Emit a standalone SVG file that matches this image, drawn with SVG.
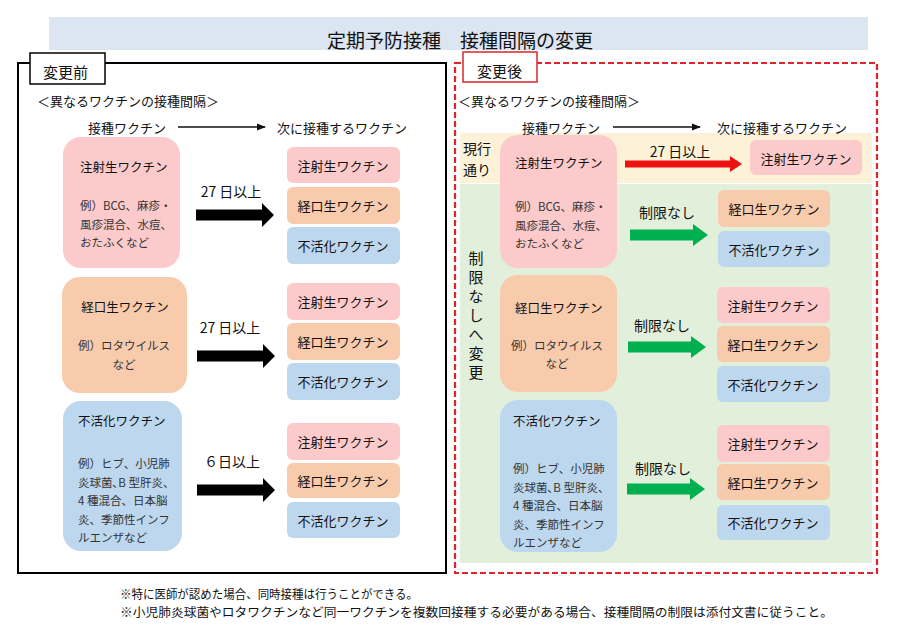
<svg xmlns="http://www.w3.org/2000/svg" width="900" height="637" viewBox="0 0 900 637">
<style>
text{font-family:"Noto Sans CJK JP","Noto Sans",sans-serif;fill:#111;dominant-baseline:central}
.t{font-size:19px}
.lb{font-size:15px}
.lv{font-size:14px}
.h{font-size:13px}
.nm{font-size:12.5px}
.ex{font-size:11.5px;fill:#333}
.sm{font-size:13px}
.iv{font-size:14px}
.fn{font-size:12px}
.mid{text-anchor:middle}
.pk{fill:#fccaca}
.or{fill:#f8cbad}
.bl{fill:#bdd7ee}
</style>
<defs>
<marker id="ah" viewBox="0 0 10 10" refX="9" refY="5" markerWidth="7" markerHeight="7" orient="auto"><path d="M0,1 L10,5 L0,9 Z" fill="#111"/></marker>
<path id="ablk" d="M0,-5.5 H66 V-12 L78,0 L66,12 V5.5 H0 Z"/>
<path id="agrn" d="M0,-5.5 H63 V-11 L78,0 L63,11 V5.5 H0 Z"/>
<path id="ared" d="M0,-3.5 H105 V-8 L117,0 L105,8 V3.5 H0 Z"/>
</defs>

<g id="title">
<rect x="49" y="17" width="819" height="33" fill="#dce6f2"/>
<text class="t mid" x="460" y="39">定期予防接種　接種間隔の変更</text>
</g>

<g id="before-frame">
<rect x="18" y="63" width="428" height="510" fill="#fff" stroke="#000" stroke-width="2"/>
<rect x="30" y="53" width="75" height="31" fill="#fff" stroke="#000" stroke-width="1.5"/>
<text class="lb" x="43" y="71">変更前</text>
<text class="h" x="37" y="100">＜異なるワクチンの接種間隔＞</text>
<text class="h" x="88" y="127">接種ワクチン</text>
<text class="h" x="277" y="127">次に接種するワクチン</text>
</g>

<g id="after-frame">
<rect x="455" y="63" width="422" height="510" fill="#fff" stroke="#e0242b" stroke-width="2.2" stroke-dasharray="6,3"/>
<rect x="460" y="133" width="412" height="50" fill="#fdf1d8"/>
<rect x="460" y="184" width="412" height="379" fill="#e2efda"/>
<rect x="463" y="52" width="74" height="30" fill="#fff" stroke="#d9262c" stroke-width="1.5"/>
<text class="lb" x="477" y="70">変更後</text>
<text class="h" x="458" y="100">＜異なるワクチンの接種間隔＞</text>
<text class="h" x="522" y="127">接種ワクチン</text>
<text class="h" x="717" y="127">次に接種するワクチン</text>
<text class="lv" x="463" y="147.5">現行</text>
<text class="lv" x="463" y="168.5">通り</text>
<g class="lb mid">
<text x="476" y="257">制</text>
<text x="476" y="276">限</text>
<text x="476" y="295">な</text>
<text x="476" y="314">し</text>
<text x="476" y="333">へ</text>
<text x="476" y="352">変</text>
<text x="476" y="371">更</text>
</g>
</g>

<g id="connectors">
<line x1="178" y1="127" x2="265" y2="127" stroke="#111" stroke-width="1.3" marker-end="url(#ah)"/>
<line x1="613" y1="127" x2="700" y2="127" stroke="#111" stroke-width="1.3" marker-end="url(#ah)"/>
<use href="#ablk" x="196" y="215" fill="#000"/>
<use href="#ablk" x="197" y="356" fill="#000"/>
<use href="#ablk" x="197" y="490" fill="#000"/>
<use href="#ared" x="625" y="164" fill="#ee1111"/>
<use href="#agrn" x="630" y="235" fill="#00b050"/>
<use href="#agrn" x="628" y="347" fill="#00b050"/>
<use href="#agrn" x="627" y="489" fill="#00b050"/>
<text class="iv mid" x="231" y="191">27 日以上</text>
<text class="iv mid" x="230" y="327">27 日以上</text>
<text class="iv mid" x="232" y="461">６日以上</text>
<text class="iv mid" x="680" y="151">27 日以上</text>
<text class="iv mid" x="667" y="212">制限なし</text>
<text class="iv mid" x="662" y="325">制限なし</text>
<text class="iv mid" x="663" y="468">制限なし</text>
</g>

<g id="b-inj">
<rect class="pk" x="63" y="137" width="117" height="131" rx="18"/>
<text class="nm" x="80" y="166">注射生ワクチン</text>
<text class="ex" x="80" y="205">例）BCG、麻疹・</text>
<text class="ex" x="80" y="223.5">風疹混合、水痘、</text>
<text class="ex" x="80" y="242">おたふくなど</text>
</g>
<g id="b-oral">
<rect class="or" x="62" y="277" width="125" height="116" rx="18"/>
<text class="nm mid" x="125" y="306">経口生ワクチン</text>
<text class="ex mid" x="124" y="345">例）ロタウイルス</text>
<text class="ex mid" x="124" y="364">など</text>
</g>
<g id="b-inact">
<rect class="bl" x="63" y="401" width="119" height="150" rx="18"/>
<text class="nm" x="78" y="420">不活化ワクチン</text>
<text class="ex" x="78" y="463">例）ヒブ、小児肺</text>
<text class="ex" x="78" y="481.5">炎球菌､B 型肝炎、</text>
<text class="ex" x="78" y="500">4 種混合、日本脳</text>
<text class="ex" x="78" y="518.5">炎、季節性インフ</text>
<text class="ex" x="78" y="537">ルエンザなど</text>
</g>

<g id="b-t1-inj"><rect class="pk" x="287" y="147" width="113" height="36" rx="6"/><text class="sm mid" x="343" y="165">注射生ワクチン</text></g>
<g id="b-t1-oral"><rect class="or" x="287" y="187" width="113" height="37" rx="6"/><text class="sm mid" x="343" y="205">経口生ワクチン</text></g>
<g id="b-t1-inact"><rect class="bl" x="287" y="227" width="113" height="37" rx="6"/><text class="sm mid" x="343" y="245">不活化ワクチン</text></g>
<g id="b-t2-inj"><rect class="pk" x="287" y="283" width="113" height="37" rx="6"/><text class="sm mid" x="343" y="301">注射生ワクチン</text></g>
<g id="b-t2-oral"><rect class="or" x="287" y="323" width="113" height="37" rx="6"/><text class="sm mid" x="343" y="341">経口生ワクチン</text></g>
<g id="b-t2-inact"><rect class="bl" x="287" y="363" width="113" height="37" rx="6"/><text class="sm mid" x="343" y="381">不活化ワクチン</text></g>
<g id="b-t3-inj"><rect class="pk" x="287" y="423" width="113" height="37" rx="6"/><text class="sm mid" x="343" y="441">注射生ワクチン</text></g>
<g id="b-t3-oral"><rect class="or" x="287" y="463" width="113" height="35" rx="6"/><text class="sm mid" x="343" y="480">経口生ワクチン</text></g>
<g id="b-t3-inact"><rect class="bl" x="287" y="502" width="113" height="36" rx="6"/><text class="sm mid" x="343" y="520">不活化ワクチン</text></g>

<g id="a-inj">
<rect class="pk" x="500" y="135" width="117" height="133" rx="18"/>
<text class="nm" x="515" y="162">注射生ワクチン</text>
<text class="ex" x="515" y="206">例）BCG、麻疹・</text>
<text class="ex" x="515" y="224.5">風疹混合、水痘、</text>
<text class="ex" x="515" y="243">おたふくなど</text>
</g>
<g id="a-oral">
<rect class="or" x="500" y="275" width="117" height="117" rx="18"/>
<text class="nm" x="515" y="307">経口生ワクチン</text>
<text class="ex mid" x="557" y="345">例）ロタウイルス</text>
<text class="ex mid" x="557" y="363">など</text>
</g>
<g id="a-inact">
<rect class="bl" x="500" y="400" width="117" height="152" rx="18"/>
<text class="nm" x="513" y="420">不活化ワクチン</text>
<text class="ex" x="513" y="468">例）ヒブ、小児肺</text>
<text class="ex" x="513" y="486.5">炎球菌､B 型肝炎、</text>
<text class="ex" x="513" y="505">4 種混合、日本脳</text>
<text class="ex" x="513" y="523.5">炎、季節性インフ</text>
<text class="ex" x="513" y="542">ルエンザなど</text>
</g>

<g id="a-t0-inj"><rect class="pk" x="750" y="140" width="112" height="35" rx="6"/><text class="sm mid" x="806" y="158">注射生ワクチン</text></g>
<g id="a-t1-oral"><rect class="or" x="718" y="190" width="112" height="37" rx="6"/><text class="sm mid" x="774" y="208">経口生ワクチン</text></g>
<g id="a-t1-inact"><rect class="bl" x="718" y="231" width="112" height="36" rx="6"/><text class="sm mid" x="774" y="249">不活化ワクチン</text></g>
<g id="a-t2-inj"><rect class="pk" x="717" y="287" width="113" height="36" rx="6"/><text class="sm mid" x="773" y="305">注射生ワクチン</text></g>
<g id="a-t2-oral"><rect class="or" x="717" y="326" width="113" height="36" rx="6"/><text class="sm mid" x="773" y="344">経口生ワクチン</text></g>
<g id="a-t2-inact"><rect class="bl" x="717" y="366" width="113" height="36" rx="6"/><text class="sm mid" x="773" y="384">不活化ワクチン</text></g>
<g id="a-t3-inj"><rect class="pk" x="717" y="425" width="113" height="37" rx="6"/><text class="sm mid" x="773" y="443">注射生ワクチン</text></g>
<g id="a-t3-oral"><rect class="or" x="717" y="464" width="113" height="36" rx="6"/><text class="sm mid" x="773" y="482">経口生ワクチン</text></g>
<g id="a-t3-inact"><rect class="bl" x="717" y="505" width="113" height="35" rx="6"/><text class="sm mid" x="773" y="522">不活化ワクチン</text></g>

<g id="notes">
<text class="fn" x="120" y="593" textLength="298" lengthAdjust="spacingAndGlyphs">※特に医師が認めた場合、同時接種は行うことができる。</text>
<text class="fn" x="120" y="611" textLength="713" lengthAdjust="spacingAndGlyphs">※小児肺炎球菌やロタワクチンなど同一ワクチンを複数回接種する必要がある場合、接種間隔の制限は添付文書に従うこと。</text>
</g>
</svg>
